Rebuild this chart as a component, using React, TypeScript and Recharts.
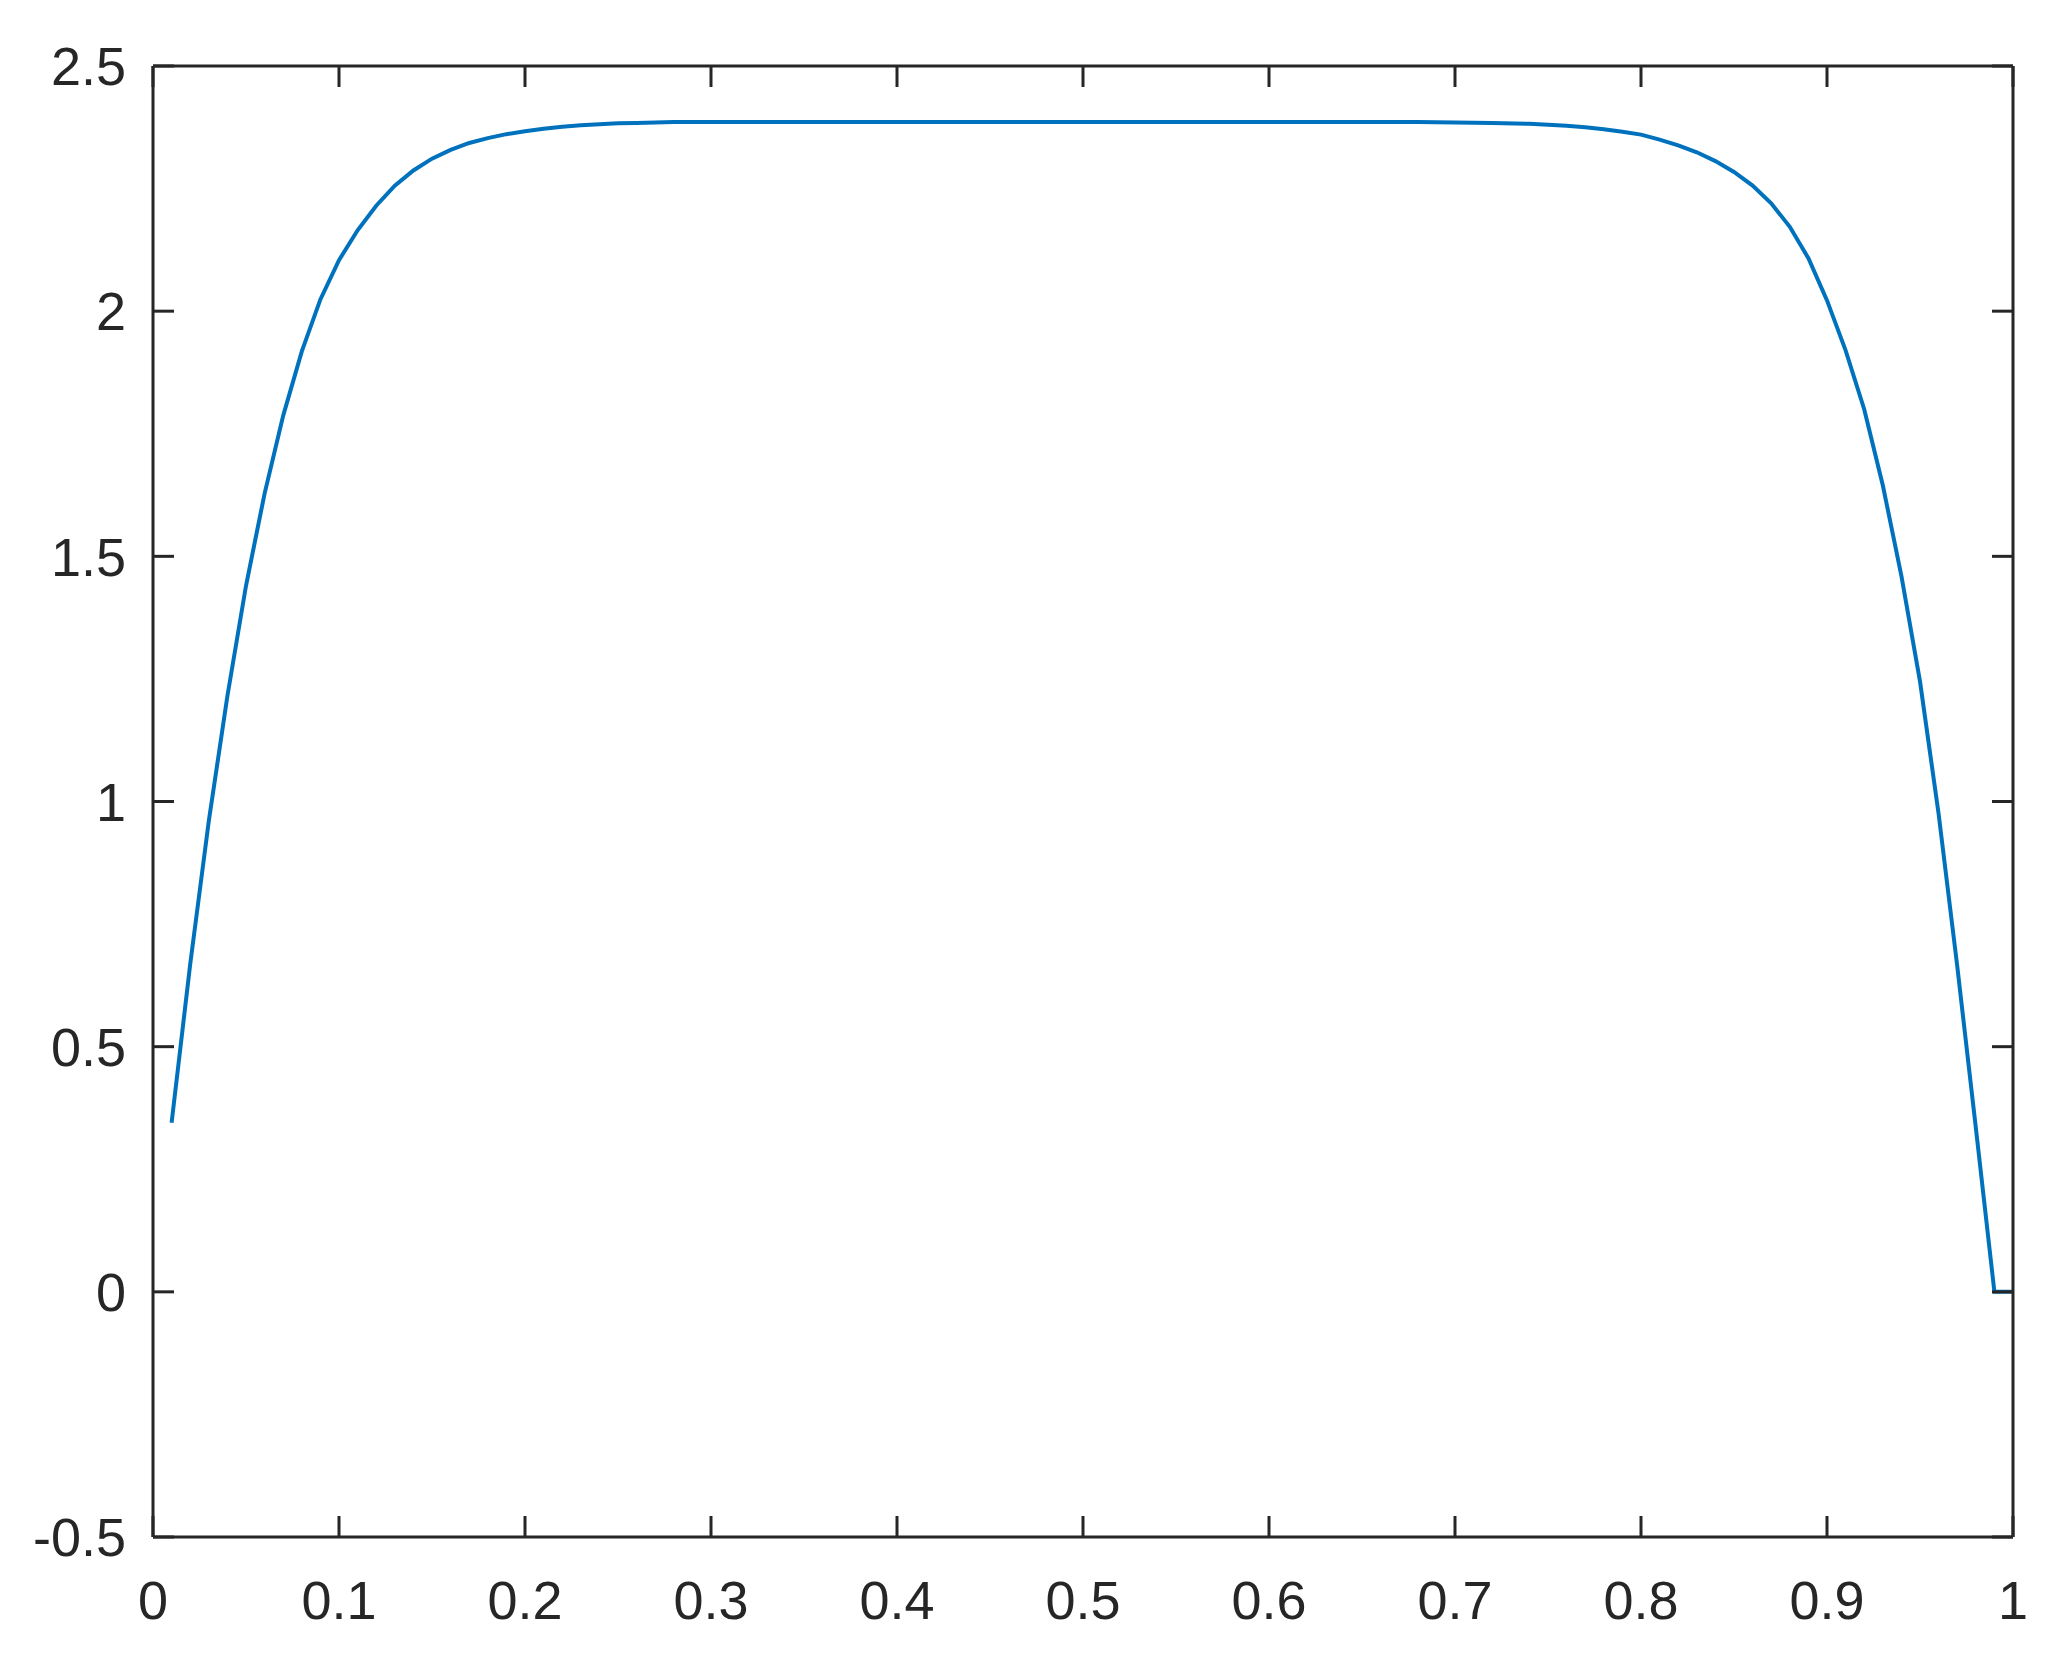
import { Line, LineChart, XAxis, YAxis } from "recharts";

// sample positions (x) and the plotted profile (y)
const xs = [
  0.01, 0.02, 0.03, 0.04, 0.05, 0.06, 0.07, 0.08, 0.09, 0.1,
  0.11, 0.12, 0.13, 0.14, 0.15, 0.16, 0.17, 0.18, 0.19, 0.2,
  0.21, 0.22, 0.23, 0.24, 0.25, 0.26, 0.27, 0.28, 0.29, 0.3,
  0.35, 0.4, 0.45, 0.5, 0.55, 0.6, 0.65, 0.68, 0.7,
  0.72, 0.74, 0.75, 0.76, 0.77, 0.78, 0.79, 0.8,
  0.81, 0.82, 0.83, 0.84, 0.85, 0.86, 0.87, 0.88, 0.89, 0.9,
  0.91, 0.92, 0.93, 0.94, 0.95, 0.96, 0.97, 0.98, 0.99, 1.0,
];

const ys = [
  0.345, 0.668, 0.96, 1.215, 1.44, 1.628, 1.787, 1.918, 2.024, 2.104,
  2.165, 2.215, 2.256, 2.287, 2.311, 2.329, 2.343, 2.353, 2.361, 2.367,
  2.372, 2.376, 2.379, 2.381, 2.383, 2.384, 2.385, 2.386, 2.386, 2.386,
  2.386, 2.386, 2.386, 2.386, 2.386, 2.386, 2.386, 2.386, 2.385,
  2.384, 2.382, 2.38, 2.378, 2.375, 2.371, 2.366, 2.36,
  2.35, 2.338, 2.324, 2.306, 2.284, 2.256, 2.22, 2.172, 2.108, 2.022,
  1.92, 1.8, 1.645, 1.46, 1.245, 0.975, 0.665, 0.335, 0, 0,
];

const xTicks = [0, 0.1, 0.2, 0.3, 0.4, 0.5, 0.6, 0.7, 0.8, 0.9, 1];
const yTicks = [-0.5, 0, 0.5, 1, 1.5, 2, 2.5];

const data = xs.map((x, i) => ({ x, y: ys[i] }));

const axisColor = "#262626";
const axisStyle = { stroke: axisColor, strokeWidth: 3 };
const tickFont = { fontFamily: "'Liberation Sans', Arial, sans-serif", fontSize: 54, fill: axisColor };

export default function App() {
  return (
    <div style={{ position: "absolute", left: 0, top: 0, background: "#fff" }}>
      <LineChart width={2065} height={1674} data={data} margin={{ top: 0, right: 0, bottom: 0, left: 0 }}>
        <XAxis
          dataKey="x"
          type="number"
          domain={[0, 1]}
          ticks={xTicks}
          height={137}
          axisLine={axisStyle}
          tickLine={axisStyle}
          tickSize={-21}
          tickMargin={65}
          tick={tickFont}
          interval={0}
        />
        <XAxis
          xAxisId="top"
          dataKey="x"
          orientation="top"
          type="number"
          domain={[0, 1]}
          allowDataOverflow
          ticks={xTicks}
          height={66}
          axisLine={axisStyle}
          tickLine={axisStyle}
          tickSize={-21}
          tick={() => <g />}
          interval={0}
        />
        <YAxis
          type="number"
          domain={[-0.5, 2.5]}
          ticks={yTicks}
          width={153}
          axisLine={axisStyle}
          tickLine={axisStyle}
          tickSize={-21}
          tickMargin={48}
          tick={tickFont}
          interval={0}
        />
        <YAxis
          yAxisId="right"
          dataKey="y"
          orientation="right"
          type="number"
          domain={[-0.5, 2.5]}
          allowDataOverflow
          ticks={yTicks}
          width={52}
          axisLine={axisStyle}
          tickLine={axisStyle}
          tickSize={-21}
          tick={() => <g />}
          interval={0}
        />
        <Line
          type="linear"
          dataKey="y"
          stroke="#0072BD"
          strokeWidth={4}
          dot={false}
          isAnimationActive={false}
        />
      </LineChart>
    </div>
  );
}
